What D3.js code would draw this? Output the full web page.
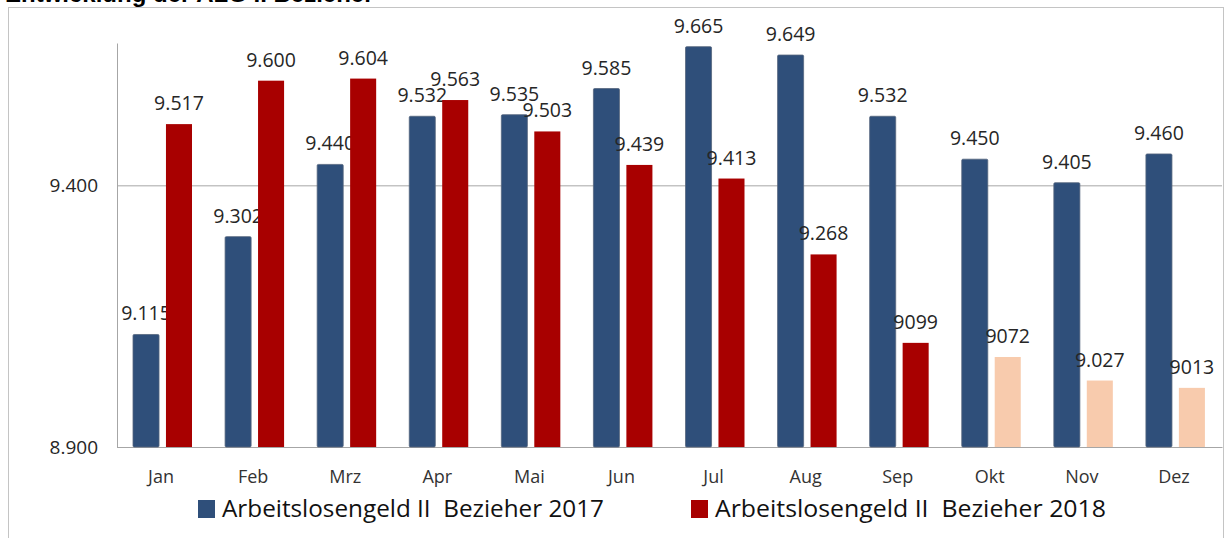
<!DOCTYPE html>
<html>
<head>
<meta charset="utf-8">
<script src="https://cdn.jsdelivr.net/npm/d3@7"></script>
<style>
body { margin: 0; background: #fff; }
svg { display: block; font-family: "Open Sans", sans-serif; }
text { white-space: pre; }
</style>
</head>
<body>
<svg id="chart"></svg>
<script>
var months = ["Jan","Feb","Mrz","Apr","Mai","Jun","Jul","Aug","Sep","Okt","Nov","Dez"];
var values2017 = [9115,9302,9440,9532,9535,9585,9665,9649,9532,9450,9405,9460];
var values2018 = [9517,9600,9604,9563,9503,9439,9413,9268,9099,9072,9027,9013];
var labels2018 = ["9.517","9.600","9.604","9.563","9.503","9.439","9.413","9.268","9099","9072","9.027","9013"];
var projected2018 = ["Okt","Nov","Dez"];
var yTicks = [8900, 9400];
var seriesNames = ["Arbeitslosengeld II  Bezieher 2017", "Arbeitslosengeld II  Bezieher 2018"];

var width = 1227,
    height = 538;

var plotLeft = 117, plotRight = 1222, plotTop = 43, plotBottom = 447;
var blue = "#2f4f7a", red = "#a80000", peach = "#f8cbad";

var de = d3.formatLocale({decimal: ",", thousands: ".", grouping: [3], currency: ["", " €"]});
var fmt = de.format(",d");

var svg = d3.select("#chart").attr("width", width).attr("height", height);

svg.append("text").text("Entwicklung der ALG II Bezieher")
	.attr("x", 5).attr("y", 2)
	.style("font-family", "'Liberation Sans', Arial, sans-serif")
	.style("font-weight", "bold").style("font-size", "24px").attr("fill", "#000");

svg.append("rect").attr("x", 8.5).attr("y", 7.5).attr("width", 1215).attr("height", 545)
	.attr("fill", "none").attr("stroke", "#c4c4c4");

var x0 = d3.scaleBand().domain(months).range([plotLeft, plotRight]).padding(0);
var x1 = d3.scaleBand().domain(["2017","2018"]).range([16, 75]).paddingInner(0.21);
var y = d3.scaleLinear().domain([8900, 9672]).range([plotBottom, plotTop]);

var grid = svg.append("g").attr("transform", "translate(" + plotLeft + ",0)")
	.call(d3.axisRight(y).tickValues(yTicks).tickSize(plotRight - plotLeft).tickFormat(""));
grid.select(".domain").remove();
grid.selectAll("line").attr("stroke", "#a6a6a6");

var yAxis = svg.append("g").attr("transform", "translate(" + plotLeft + ",0)")
	.call(d3.axisLeft(y).tickValues(yTicks).tickSize(0).tickSizeOuter(0).tickPadding(19).tickFormat(fmt));
yAxis.select(".domain").attr("stroke", "#a6a6a6");
yAxis.selectAll("text").style("font-size", "19px").style("font-family", "'Open Sans', sans-serif").attr("fill", "#262626");

var xAxis = svg.append("g").attr("transform", "translate(0," + plotBottom + ")")
	.call(d3.axisBottom(x0).tickSize(0).tickSizeOuter(0).tickPadding(23));
xAxis.select(".domain").attr("stroke", "#a6a6a6");
xAxis.selectAll("text").attr("dx", -2).style("font-size", "18px").style("font-family", "'Open Sans', sans-serif").attr("fill", "#333");

var bw = x1.bandwidth();

svg.append("g").selectAll("rect").data(values2017).enter().append("rect")
	.attr("x", function(d, i) { return x0(months[i]) + x1("2017"); })
	.attr("y", function(d) { return y(d); })
	.attr("width", bw)
	.attr("height", function(d) { return plotBottom - y(d); })
	.attr("rx", 1.2)
	.attr("fill", blue).attr("stroke", "#55667e").attr("stroke-width", 0.8);

svg.append("g").selectAll("text").data(values2017).enter().append("text")
	.text(function(d) { return fmt(d); })
	.attr("x", function(d, i) { return x0(months[i]) + x1("2017") + bw / 2; })
	.attr("y", function(d) { return y(d) - 14; })
	.attr("text-anchor", "middle")
	.style("font-size", "19.5px").attr("fill", "#262626");

svg.append("g").selectAll("rect").data(values2018).enter().append("rect")
	.attr("x", function(d, i) { return x0(months[i]) + x1("2018"); })
	.attr("y", function(d) { return y(d); })
	.attr("width", bw)
	.attr("height", function(d) { return plotBottom - y(d); })
	.attr("fill", function(d, i) { return projected2018.indexOf(months[i]) >= 0 ? peach : red; });

svg.append("g").selectAll("text").data(values2018).enter().append("text")
	.text(function(d, i) { return labels2018[i]; })
	.attr("x", function(d, i) { return x0(months[i]) + x1("2018") + bw / 2; })
	.attr("y", function(d) { return y(d) - 14; })
	.attr("text-anchor", "middle")
	.style("font-size", "19.5px").attr("fill", "#262626");

var legendX = [198, 691], legendW = [382, 391], legendCol = [blue, red];
var legend = svg.append("g").selectAll("g").data(seriesNames).enter().append("g")
	.attr("transform", function(d, i) { return "translate(" + legendX[i] + ",500)"; });
legend.append("rect").attr("width", 17).attr("height", 18)
	.attr("fill", function(d, i) { return legendCol[i]; });
legend.append("text").text(function(d) { return d; })
	.attr("x", 24).attr("y", 17)
	.attr("textLength", function(d, i) { return legendW[i]; })
	.attr("lengthAdjust", "spacingAndGlyphs")
	.style("font-size", "24px").attr("fill", "#111");
</script>
</body>
</html>
